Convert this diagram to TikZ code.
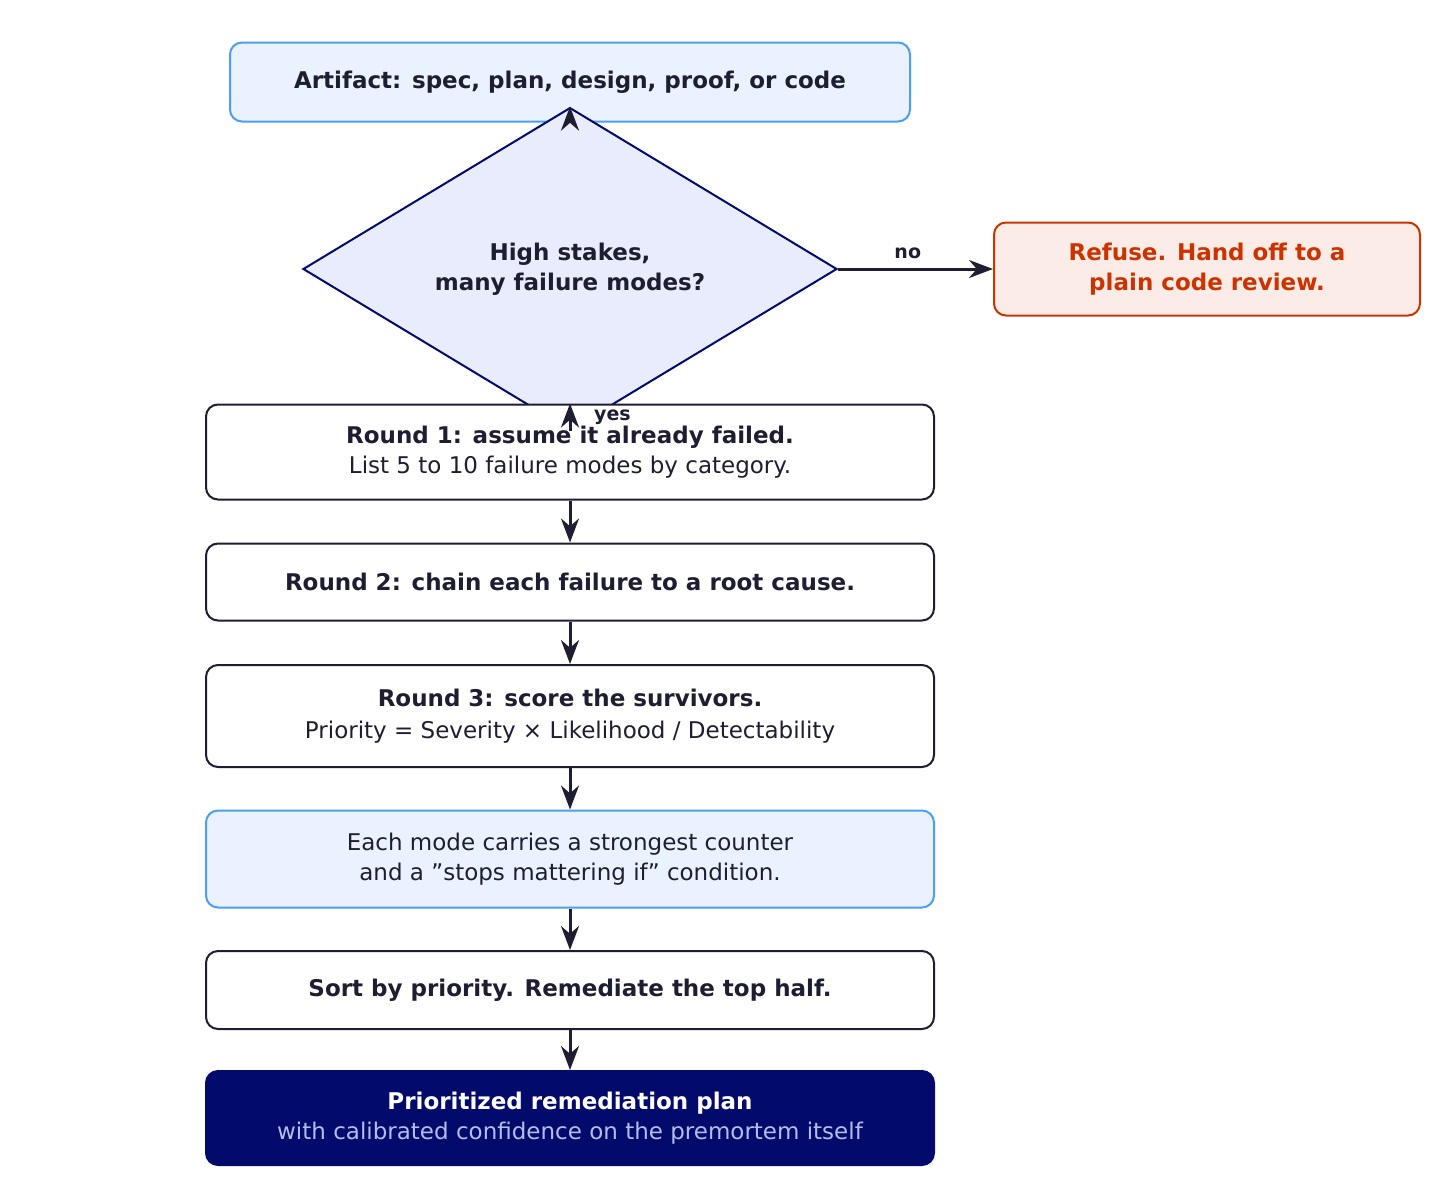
\documentclass[tikz,border=0pt]{standalone}
\usepackage{fontspec}
\setmainfont{DejaVu Sans}
\usepackage{tikz}
\usetikzlibrary{shapes.geometric,arrows.meta}
\definecolor{inkdark}{HTML}{1E1E32}
\definecolor{bluebd}{HTML}{4A9EF5}
\definecolor{bluefill}{HTML}{EAF2FF}
\definecolor{navy}{HTML}{020A6B}
\definecolor{diafill}{HTML}{E8ECFC}
\definecolor{redbd}{HTML}{CC3300}
\definecolor{redfill}{HTML}{FCECE8}
\definecolor{subtxt}{HTML}{B4BCEC}
\tikzset{
  stage/.style={draw=inkdark, line width=1pt, fill=white, rounded corners=6pt,
    minimum width=364pt, align=center, text=inkdark, font=\fontsize{11.5}{15}\selectfont},
  flow/.style={-{Stealth[length=12pt,width=9pt]}, line width=1.5pt, draw=inkdark},
  tag/.style={font=\fontsize{9.5}{11}\selectfont\bfseries, text=inkdark}
}
\begin{document}
\begin{tikzpicture}[x=0.5pt,y=0.5pt,yscale=-1]
\useasboundingbox (0,0) rectangle (1456,1189);

% boxes
\node[stage, draw=bluebd, fill=bluefill, minimum width=340pt, minimum height=39.5pt, font=\fontsize{11.5}{15}\selectfont\bfseries] (art) at (570,82) {Artifact: spec, plan, design, proof, or code};
\node[diamond, draw=navy, line width=1pt, fill=diafill, minimum width=267pt, minimum height=87pt, inner sep=0pt, align=center, text=inkdark, font=\fontsize{11.5}{15}\selectfont\bfseries] (dec) at (570,269) {High stakes,\\many failure modes?};
\node[stage, draw=redbd, fill=redfill, text=redbd, minimum width=213pt, minimum height=46.5pt, font=\fontsize{11.5}{15}\selectfont\bfseries] (ref) at (1207,269) {Refuse. Hand off to a\\plain code review.};
\node[stage, minimum height=47.5pt] (r1) at (570,452) {\textbf{Round 1: assume it already failed.}\\List 5 to 10 failure modes by category.};
\node[stage, minimum height=38.5pt, font=\fontsize{11.5}{15}\selectfont\bfseries] (r2) at (570,582) {Round 2: chain each failure to a root cause.};
\node[stage, minimum height=51pt] (r3) at (570,716) {\textbf{Round 3: score the survivors.}\\[1pt]Priority = Severity × Likelihood / Detectability};
\node[stage, draw=bluebd, fill=bluefill, minimum height=48.5pt] (each) at (570,859) {Each mode carries a strongest counter\\and a "stops mattering if" condition.};
\node[stage, minimum height=39pt, font=\fontsize{11.5}{15}\selectfont\bfseries] (sort) at (570,990) {Sort by priority. Remediate the top half.};
\node[stage, draw=navy, fill=navy, text=white, minimum height=47pt] (plan) at (570,1118) {\textbf{Prioritized remediation plan}\\\textcolor{subtxt}{with calibrated confidence on the premortem itself}};

% connectors
\draw[flow] (art) -- (dec);
\draw[flow] (dec) -- (ref) node[tag, pos=0.45, above=1pt] {no};
\draw[flow] (dec) -- (r1) node[tag, midway, right=8pt] {yes};
\draw[flow] (r1) -- (r2);
\draw[flow] (r2) -- (r3);
\draw[flow] (r3) -- (each);
\draw[flow] (each) -- (sort);
\draw[flow] (sort) -- (plan);
\end{tikzpicture}
\end{document}
